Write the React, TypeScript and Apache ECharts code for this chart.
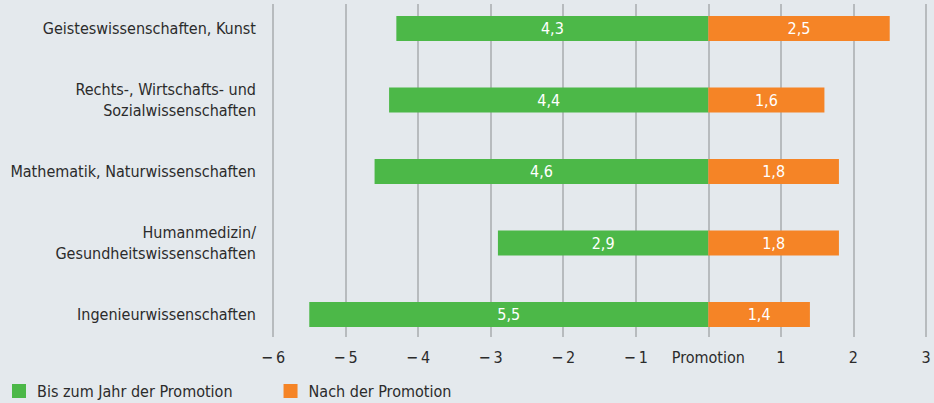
import React, { useEffect, useRef } from "react";
import * as echarts from "echarts";

const categories = [
  "Geisteswissenschaften, Kunst",
  "Rechts-, Wirtschafts- und\nSozialwissenschaften",
  "Mathematik, Naturwissenschaften",
  "Humanmedizin/\nGesundheitswissenschaften",
  "Ingenieurwissenschaften",
];
const bisZurPromotion = [4.3, 4.4, 4.6, 2.9, 5.5];
const nachPromotion = [2.5, 1.6, 1.8, 1.8, 1.4];
const tickLabels: Record<string, string> = {
  "-6": "\u2212\u20096",
  "-5": "\u2212\u20095",
  "-4": "\u2212\u20094",
  "-3": "\u2212\u20093",
  "-2": "\u2212\u20092",
  "-1": "\u2212\u20091",
  "0": "Promotion",
  "1": "1",
  "2": "2",
  "3": "3",
};
const seriesNames = ["Bis zum Jahr der Promotion", "Nach der Promotion"];

const FONT = "'Liberation Sans Narrow', 'DejaVu Sans Condensed', 'Roboto', sans-serif";
const TEXT = "#2b2b2b";
const GREEN = "#4cb848";
const ORANGE = "#f58426";

export default function App() {
  const ref = useRef<HTMLDivElement>(null);
  useEffect(() => {
    if (!ref.current) return;
    const chart = echarts.init(ref.current, undefined, { renderer: "svg" });
    const fmt = (v: number) => Math.abs(v).toFixed(1).replace(".", ",");
    chart.setOption({
      animation: false,
      backgroundColor: "#e4e9ed",
      textStyle: { fontFamily: FONT },
      legend: {
        left: 7,
        top: 378,
        itemWidth: 14,
        itemHeight: 14,
        itemGap: 51,
        icon: "rect",
        textStyle: { color: TEXT, fontSize: 16, fontFamily: FONT, padding: [0, 0, 0, 6] },
        data: seriesNames,
      },
      grid: [
        { left: 273, right: 8, top: 4, height: 333 },
        { left: 273, right: 8, top: 28.5, height: 286 },
      ],
      xAxis: [
        {
          gridIndex: 0,
          type: "value",
          min: -6,
          max: 3,
          interval: 1,
          axisLine: { show: false },
          axisTick: { show: false },
          splitLine: { show: true, lineStyle: { color: "#a9abae", width: 1.5 } },
          axisLabel: {
            margin: 12,
            color: TEXT,
            fontSize: 16,
            fontFamily: FONT,
            formatter: (v: number) => tickLabels[String(v)] ?? String(v),
          },
        },
        {
          gridIndex: 1,
          type: "value",
          min: -6,
          max: 3,
          show: false,
          splitLine: { show: false },
        },
      ],
      yAxis: [
        { gridIndex: 0, type: "value", min: 0, max: 1, show: false, splitLine: { show: false } },
        {
          gridIndex: 1,
          type: "category",
          inverse: true,
          boundaryGap: false,
          data: categories,
          axisLine: { show: false },
          axisTick: { show: false },
          splitLine: { show: false },
          axisLabel: {
            margin: 17,
            color: TEXT,
            fontSize: 16,
            lineHeight: 21,
            fontFamily: FONT,
            align: "right",
          },
        },
      ],
      series: [
        {
          type: "scatter",
          xAxisIndex: 0,
          yAxisIndex: 0,
          data: [],
          silent: true,
        },
        {
          name: seriesNames[0],
          type: "bar",
          xAxisIndex: 1,
          yAxisIndex: 1,
          barWidth: 25,
          barGap: "-100%",
          itemStyle: { color: GREEN },
          data: bisZurPromotion.map((v) => -v),
          label: {
            show: true,
            position: "inside",
            color: "#fff",
            fontSize: 16,
            fontFamily: FONT,
            formatter: (p: any) => fmt(p.value),
          },
        },
        {
          name: seriesNames[1],
          type: "bar",
          xAxisIndex: 1,
          yAxisIndex: 1,
          barWidth: 25,
          barGap: "-100%",
          itemStyle: { color: ORANGE },
          data: nachPromotion,
          label: {
            show: true,
            position: "inside",
            color: "#fff",
            fontSize: 16,
            fontFamily: FONT,
            formatter: (p: any) => fmt(p.value),
          },
        },
      ],
    });
    return () => chart.dispose();
  }, []);
  return <div ref={ref} style={{ width: 934, height: 403, position: "fixed", left: 0, top: 0 }} />;
}
